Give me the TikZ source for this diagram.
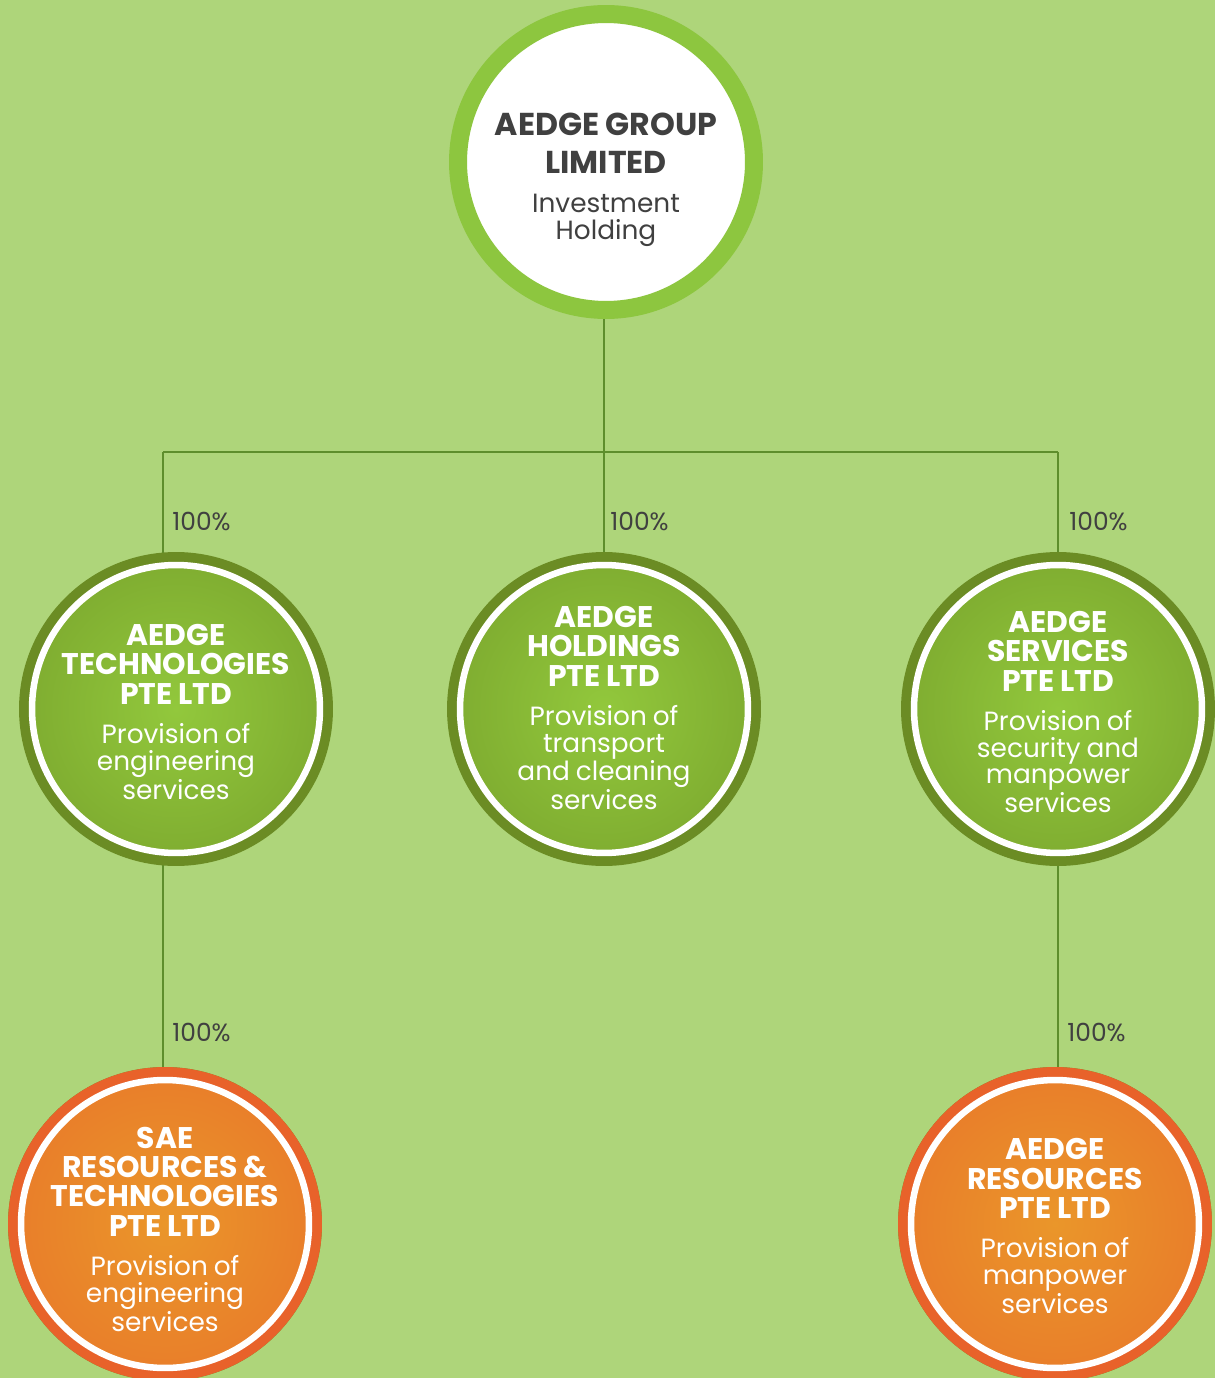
\documentclass[tikz,border=0pt]{standalone}
\usepackage{fontspec}
\setmainfont{Poppins}
\usetikzlibrary{positioning,backgrounds}
\definecolor{bggreen}{HTML}{AED57A}
\definecolor{topring}{HTML}{8DC63F}
\definecolor{darkring}{HTML}{6B8C24}
\definecolor{ballcenter}{HTML}{92C83C}
\definecolor{balledge}{HTML}{6E9426}
\definecolor{orangering}{HTML}{E8622A}
\definecolor{orangecenter}{HTML}{EA962A}
\definecolor{orangeedge}{HTML}{E8682B}
\definecolor{linkgreen}{HTML}{5E8E2C}
\definecolor{textgrey}{HTML}{404040}
\pgfdeclareradialshading{greenshade}{\pgfpointorigin}{color(0bp)=(ballcenter); color(50bp)=(balledge)}
\pgfdeclareradialshading{orangeshade}{\pgfpointorigin}{color(0bp)=(orangecenter); color(50bp)=(orangeedge)}
\newcommand{\titletext}{\fontsize{17}{16.7}\selectfont\bfseries}
\newcommand{\bodytext}{\fontsize{15}{15.3}\selectfont\mdseries}
\tikzset{
    topball/.style = {
        circle,
        draw=topring,
        line width=0.36cm,
        fill=white,
        minimum size=5.92cm,
        inner sep=0pt
    },
    greenball/.style = {
        circle,
        preaction={draw=darkring, line width=0.52cm},
        shading=greenshade,
        draw=white,
        line width=0.13cm,
        minimum size=5.76cm,
        inner sep=0pt
    },
    orangeball/.style = {
        greenball,
        preaction={draw=orangering, line width=0.52cm},
        shading=orangeshade
    },
    inside/.style = {
        text width=6cm,
        align=center,
        inner sep=0pt,
        text=white
    },
    pct/.style = {
        anchor=west,
        inner sep=0pt,
        text=textgrey,
        font=\fontsize{14.2}{15}\selectfont
    },
    link/.style = {
        draw=linkgreen,
        line width=0.045cm
    }
}

\begin{document}
\begin{tikzpicture}[x=0.02cm, y=-0.02cm]
            \useasboundingbox (0,0) rectangle (1215,1378);

            \node[topball] (group) at (606,162) {};
            \node[greenball] (tech) at (176,709) {};
            \node[greenball] (hold) at (604,709) {};
            \node[greenball] (serv) at (1058,709) {};
            \node[orangeball] (sae) at (165,1224) {};
            \node[orangeball] (res) at (1055,1224) {};

            \node[inside, text=textgrey] (grouptext) at (606,180)
            {\fontsize{18}{21.5}\selectfont\bfseries AEDGE GROUP\\LIMITED\par
            \vspace{7pt}\bodytext Investment\\Holding\par};
            \node[inside] (techtext) at (176,712)
            {\titletext AEDGE\\TECHNOLOGIES\\PTE LTD\par
            \vspace{7pt}\bodytext Provision of\\engineering\\services\par};
            \node[inside] (holdtext) at (604,708)
            {\titletext AEDGE\\HOLDINGS\\PTE LTD\par
            \vspace{7pt}\bodytext Provision of\\transport\\and cleaning\\services\par};
            \node[inside] (servtext) at (1058,712)
            {\titletext AEDGE\\SERVICES\\PTE LTD\par
            \vspace{7pt}\bodytext Provision of\\security and\\manpower\\services\par};
            \node[inside] (saetext) at (165,1229)
            {\titletext SAE\\RESOURCES \&\\TECHNOLOGIES\\PTE LTD\par
            \vspace{7pt}\bodytext Provision of\\engineering\\services\par};
            \node[inside] (restext) at (1055,1226)
            {\titletext AEDGE\\RESOURCES\\PTE LTD\par
            \vspace{7pt}\bodytext Provision of\\manpower\\services\par};

            \coordinate (bus) at (604,452);
            \coordinate (busw) at (163,452);
            \coordinate (buse) at (1058,452);

            \node[pct] (ptech) at (172,521) {100\%};
            \node[pct] (phold) at (610,521) {100\%};
            \node[pct] (pserv) at (1069,521) {100\%};
            \node[pct] (psae) at (172,1032) {100\%};
            \node[pct] (pres) at (1067,1032) {100\%};

            \begin{scope}[on background layer]
            \fill[bggreen] (0,0) rectangle (1215,1378);
            \path[link] (bus |- group) -- (bus) -- (hold);
            \path[link] (busw) -- (buse);
            \path[link] (busw) -- (busw |- sae);
            \path[link] (buse) -- (buse |- res);
            \end{scope}
        \end{tikzpicture}
\end{document}
